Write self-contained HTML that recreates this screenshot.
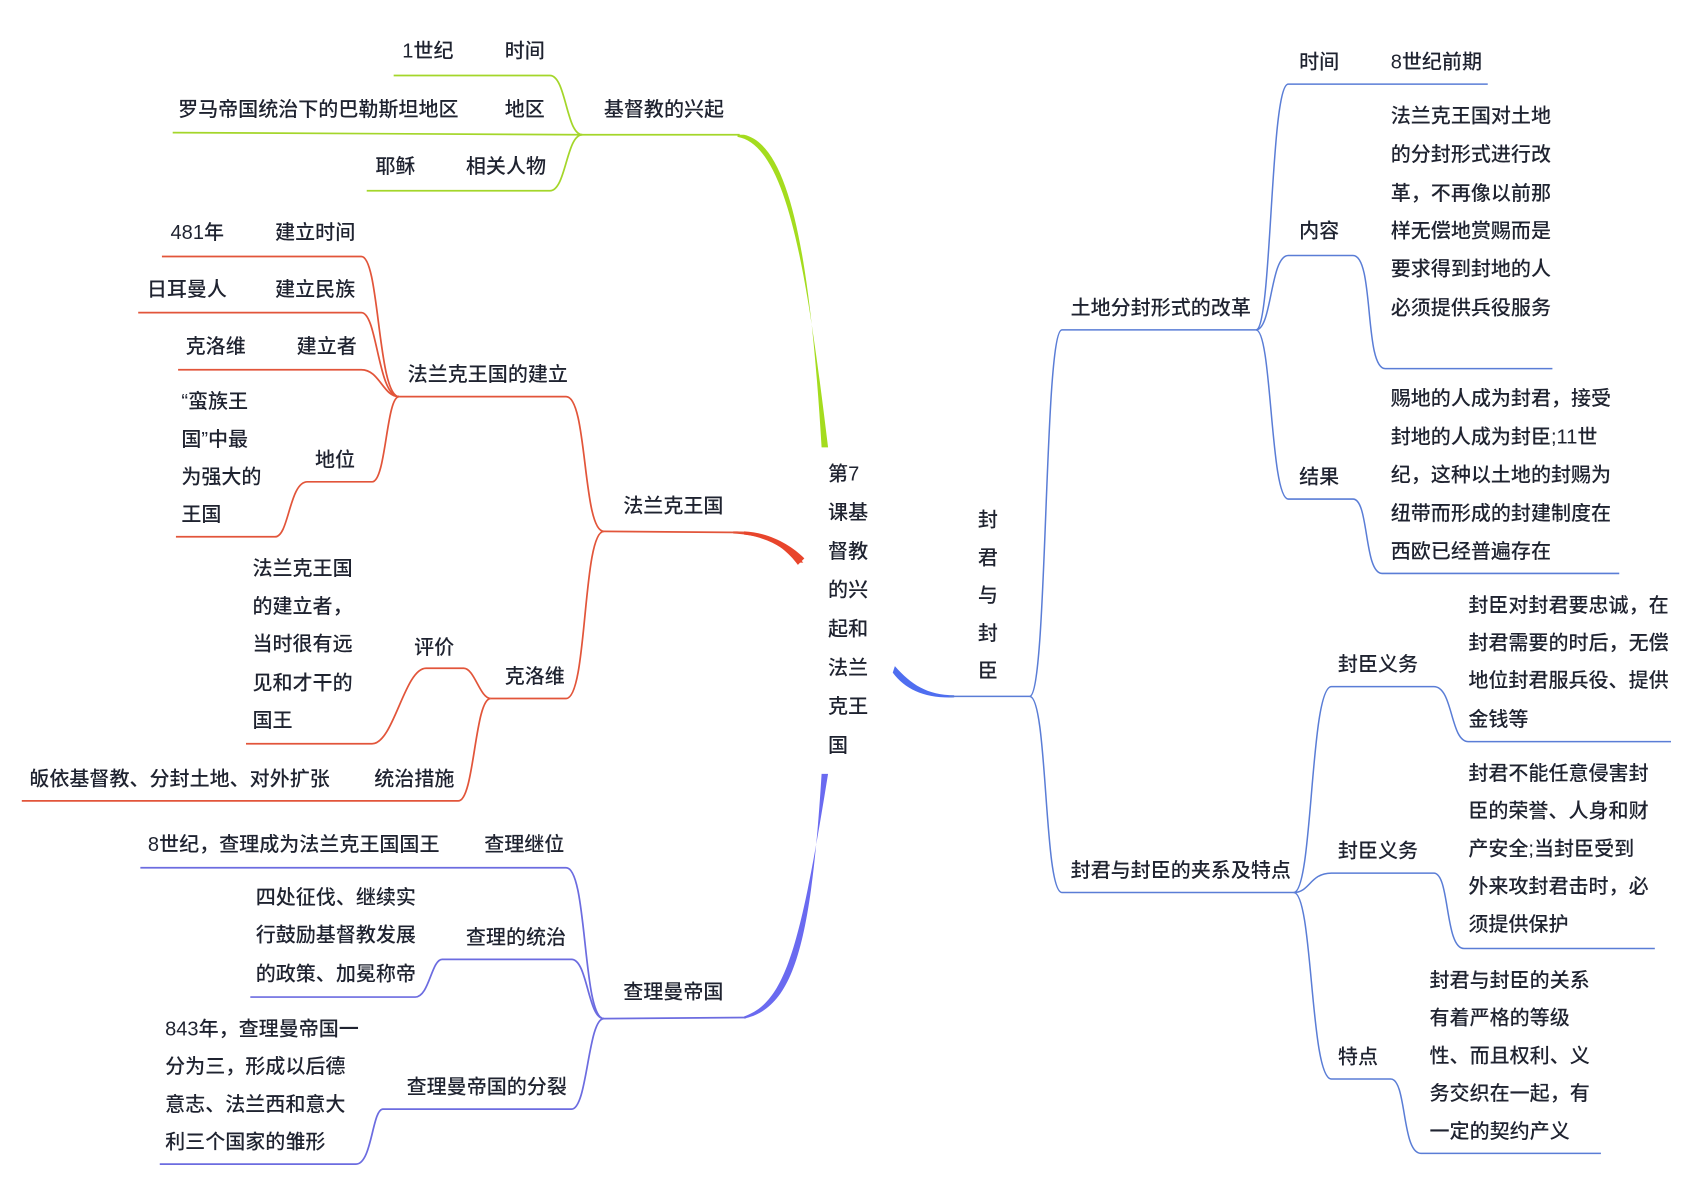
<!DOCTYPE html>
<html><head><meta charset="utf-8"><style>
html,body{margin:0;padding:0;background:#fff;}
svg{display:block}
text{font-family:"Liberation Sans","Noto Sans CJK SC",sans-serif;font-size:18.6px;font-weight:500;fill:#1f2330;dominant-baseline:central;}
.g{stroke:#a4d62a;fill:none;stroke-width:1.6}
.r{stroke:#e2553a;fill:none;stroke-width:1.6}
.p{stroke:#6c6ce0;fill:none;stroke-width:1.6}
.b{stroke:#5a7dd6;fill:none;stroke-width:1.4}
</style></head><body>
<svg width="1682" height="1190" viewBox="0 0 1560 1104" xmlns="http://www.w3.org/2000/svg">
<path d="M762 415 C752 250 735 135 690 125 L684 125 L684 127 C730 135 748 250 768 415 Z" fill="#a4dc1e"/>
<path class="g" d="M540 125 L686 125" stroke-width="2.2"/>
<path d="M745 522 C725 500 705 493 680 493 L680 495 C705 496 725 505 742 522 Z" fill="#e8452c"/>
<path d="M746 518 C733 505 713 494 690 493 L690 496 C713 498 728 508 740 524 Z" fill="#e8452c"/>
<path class="r" d="M560 493 L690 494" stroke-width="2.2"/>
<path d="M762 718 C752 880 735 935 690 945 L690 943 C728 930 742 880 768 718 Z" fill="#6a6af0"/>
<path class="p" d="M560 945 L692 944" stroke-width="2.2"/>
<path d="M830 618 C845 635 860 645 885 645 L885 647 C858 648 840 640 828 624 Z" fill="#4f6ef0"/>
<path class="b" d="M880 646 L955 646" stroke-width="1.8"/>

<path class="g" d="M540 125 C525 125 525 70 510 70 L365 70"/>
<path class="g" d="M540 125 L160 123"/>
<path class="g" d="M540 125 C525 125 525 177 510 177 L340 177"/>
<text x="560" y="102">基督教的兴起</text>
<text x="373" y="48">1世纪</text><text x="468" y="48">时间</text>
<text x="165" y="102">罗马帝国统治下的巴勒斯坦地区</text><text x="468" y="102">地区</text>
<text x="348" y="155">耶稣</text><text x="432" y="155">相关人物</text>

<text x="578" y="470">法兰克王国</text>
<path class="r" d="M560 493 C540 493 545 368 525 368 L370 368"/>
<path class="r" d="M560 493 C540 493 545 648 525 648 L455 648"/>
<text x="378" y="348">法兰克王国的建立</text>
<text x="468" y="628">克洛维</text>
<path class="r" d="M370 368 C350 368 352 238 335 238 L150 238"/>
<path class="r" d="M370 368 C350 368 350 290 335 290 L128 290"/>
<path class="r" d="M370 368 C355 368 352 343 335 343 L165 343"/>
<path class="r" d="M370 368 C358 368 358 447 345 447 L285 447 C268 447 268 498 255 498 L163 498"/>
<text x="158" y="216">481年</text><text x="255" y="216">建立时间</text>
<text x="136" y="269">日耳曼人</text><text x="255" y="269">建立民族</text>
<text x="172" y="322">克洛维</text><text x="275" y="322">建立者</text>
<text x="292" y="427">地位</text>
<text x="168" y="373">“蛮族王</text><text x="168" y="408">国”中最</text><text x="168" y="443">为强大的</text><text x="168" y="478">王国</text>
<path class="r" d="M455 648 C445 648 440 620 430 620 L395 620 C375 620 365 690 345 690 L228 690"/>
<path class="r" d="M455 648 C440 648 440 743 425 743 L20 743"/>
<text x="384" y="601">评价</text>
<text x="234" y="528">法兰克王国</text><text x="234" y="563">的建立者，</text><text x="234" y="598">当时很有远</text><text x="234" y="634">见和才干的</text><text x="234" y="669">国王</text>
<text x="347" y="723">统治措施</text><text x="27" y="723">皈依基督教、分封土地、对外扩张</text>

<text x="578" y="921">查理曼帝国</text>
<path class="p" d="M560 945 C540 945 545 805 525 805 L130 805"/>
<path class="p" d="M560 945 C545 945 545 890 530 890 L410 890 C400 890 398 925 385 925 L232 925"/>
<path class="p" d="M560 945 C545 945 545 1029 530 1029 L355 1029 C345 1029 345 1080 330 1080 L148 1080"/>
<text x="137" y="784">8世纪，查理成为法兰克王国国王</text><text x="449" y="784">查理继位</text>
<text x="432" y="870">查理的统治</text>
<text x="237" y="833">四处征伐、继续实</text><text x="237" y="868">行鼓励基督教发展</text><text x="237" y="904">的政策、加冕称帝</text>
<text x="377" y="1009">查理曼帝国的分裂</text>
<text x="153" y="955">843年，查理曼帝国一</text><text x="153" y="990">分为三，形成以后德</text><text x="153" y="1025">意志、法兰西和意大</text><text x="153" y="1060">利三个国家的雏形</text>

<text x="768" y="440">第7</text><text x="768" y="476">课基</text><text x="768" y="512">督教</text><text x="768" y="548">的兴</text><text x="768" y="584">起和</text><text x="768" y="620">法兰</text><text x="768" y="656">克王</text><text x="768" y="692">国</text>
<text x="907" y="483">封</text><text x="907" y="518">君</text><text x="907" y="553">与</text><text x="907" y="588">封</text><text x="907" y="623">臣</text>

<path class="b" d="M955 646 C972 646 968 306 985 306 L1165 306"/>
<path class="b" d="M955 646 C972 646 968 828 985 828 L1200 828"/>
<text x="993" y="286">土地分封形式的改革</text>
<text x="993" y="808">封君与封臣的夹系及特点</text>
<path class="b" d="M1165 306 C1180 306 1178 78 1195 78 L1380 78"/>
<path class="b" d="M1165 306 C1180 306 1178 237 1195 237 L1255 237 C1275 237 1265 342 1285 342 L1440 342"/>
<path class="b" d="M1165 306 C1180 306 1178 463 1195 463 L1255 463 C1270 463 1265 532 1282 532 L1502 532"/>
<text x="1205" y="58">时间</text><text x="1290" y="58">8世纪前期</text>
<text x="1205" y="215">内容</text>
<text x="1290" y="108">法兰克王国对土地</text><text x="1290" y="144">的分封形式进行改</text><text x="1290" y="180">革，不再像以前那</text><text x="1290" y="215">样无偿地赏赐而是</text><text x="1290" y="250">要求得到封地的人</text><text x="1290" y="286">必须提供兵役服务</text>
<text x="1205" y="443">结果</text>
<text x="1290" y="370">赐地的人成为封君，接受</text><text x="1290" y="406">封地的人成为封臣;11世</text><text x="1290" y="441">纪，这种以土地的封赐为</text><text x="1290" y="477">纽带而形成的封建制度在</text><text x="1290" y="512">西欧已经普遍存在</text>
<path class="b" d="M1200 828 C1218 828 1215 637 1235 637 L1330 637 C1348 637 1345 688 1362 688 L1550 688"/>
<path class="b" d="M1200 828 C1215 828 1215 810 1235 810 L1330 810 C1345 810 1340 880 1358 880 L1535 880"/>
<path class="b" d="M1200 828 C1218 828 1215 1001 1235 1001 L1290 1001 C1305 1001 1300 1070 1318 1070 L1485 1070"/>
<text x="1241" y="617">封臣义务</text>
<text x="1362" y="562">封臣对封君要忠诚，在</text><text x="1362" y="597">封君需要的时后，无偿</text><text x="1362" y="632">地位封君服兵役、提供</text><text x="1362" y="668">金钱等</text>
<text x="1241" y="790">封臣义务</text>
<text x="1362" y="718">封君不能任意侵害封</text><text x="1362" y="753">臣的荣誉、人身和财</text><text x="1362" y="788">产安全;当封臣受到</text><text x="1362" y="823">外来攻封君击时，必</text><text x="1362" y="858">须提供保护</text>
<text x="1241" y="981">特点</text>
<text x="1326" y="910">封君与封臣的关系</text><text x="1326" y="945">有着严格的等级</text><text x="1326" y="980">性、而且权利、义</text><text x="1326" y="1015">务交织在一起，有</text><text x="1326" y="1050">一定的契约产义</text>
</svg>
</body></html>
